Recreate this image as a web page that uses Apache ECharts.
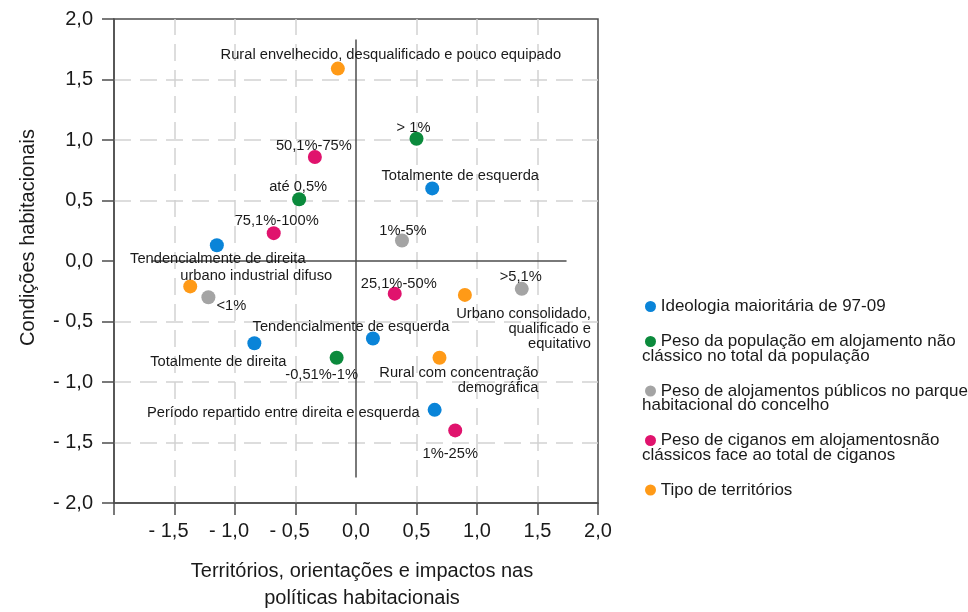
<!DOCTYPE html>
<html>
<head>
<meta charset="utf-8">
<title>Condições habitacionais</title>
<script src="https://cdn.jsdelivr.net/npm/echarts@6.0.0/dist/echarts.min.js"></script>
<style>
    html, body { margin: 0; padding: 0; background: #fff; }
    #chart { width: 968px; height: 612px; }
</style>
</head>
<body>
<div id="chart"></div>
<script>
// nomes das séries (legenda)
var seriesNames = [
    'Ideologia maioritária de 97-09',
    'Peso da população em alojamento não\nclássico no total da população',
    'Peso de alojamentos públicos no parque\nhabitacional do concelho',
    'Peso de ciganos em alojamentosnão\nclássicos face ao total de ciganos',
    'Tipo de territórios'
];
var seriesColors = ['#0a84d8', '#0b8a3c', '#a4a4a4', '#e0136d', '#ff9a17'];

// [x, y, etiqueta]
var ideologia = [
    [0.63, 0.60, 'Totalmente de esquerda'],
    [-1.15, 0.13, 'Tendencialmente de direita'],
    [0.14, -0.64, 'Tendencialmente de esquerda'],
    [-0.84, -0.68, 'Totalmente de direita'],
    [0.65, -1.23, 'Período repartido entre direita e esquerda']
];
var populacao = [
    [0.50, 1.01, '> 1%'],
    [-0.47, 0.51, 'até 0,5%'],
    [-0.16, -0.80, '-0,51%-1%']
];
var alojPublicos = [
    [0.38, 0.17, '1%-5%'],
    [-1.22, -0.30, '<1%'],
    [1.37, -0.23, '>5,1%']
];
var ciganos = [
    [-0.34, 0.86, '50,1%-75%'],
    [-0.68, 0.23, '75,1%-100%'],
    [0.32, -0.27, '25,1%-50%'],
    [0.82, -1.40, '1%-25%']
];
var territorios = [
    [-0.15, 1.59, 'Rural envelhecido, desqualificado e pouco equipado'],
    [-1.37, -0.21, 'urbano industrial difuso'],
    [0.90, -0.28, 'Urbano consolidado,\nqualificado e\nequitativo'],
    [0.69, -0.80, 'Rural com concentração\ndemográfica']
];
var seriesData = [ideologia, populacao, alojPublicos, ciganos, territorios];

// linhas do cruzamento dos eixos
var linhaH = [[-1.69, 0], [1.74, 0]];
var linhaV = [[0, 1.83], [0, -1.79]];
// grelha tracejada
var gradeX = [-1.5, -1, -0.5, 0.5, 1, 1.5];
var gradeY = [1.5, 1, 0.5, -0.5, -1, -1.5];

// posição das etiquetas (deslocamento em px a partir do ponto)
var etiquetaPos = {
    'Totalmente de esquerda': [28, -12],
    'Tendencialmente de direita': [1, 14],
    'Tendencialmente de esquerda': [-22, -11],
    'Totalmente de direita': [-36, 19],
    'Período repartido entre direita e esquerda': [-15, 3, 'right'],
    '> 1%': [-3, -11],
    'até 0,5%': [-1, -12],
    '-0,51%-1%': [-15, 17],
    '1%-5%': [1, -9],
    '<1%': [23, 9],
    '>5,1%': [-1, -12],
    '50,1%-75%': [-1, -11],
    '75,1%-100%': [3, -12],
    '25,1%-50%': [4, -10],
    '1%-25%': [-5, 24],
    'Rural envelhecido, desqualificado e pouco equipado': [53, -14],
    'urbano industrial difuso': [66, -10],
    'Urbano consolidado,\nqualificado e\nequitativo': [126, 34, 'right'],
    'Rural com concentração\ndemográfica': [99, 23, 'right']
};

var fonte = 'Liberation Sans, Arial, sans-serif';
var corTexto = '#1a1a1a';
var corEixo = '#4d4d4d';

function fmt(v) {
    var s = Math.abs(v).toFixed(1).replace('.', ',');
    return v < 0 ? '- ' + s : s;
}

function desenhaGrafico() {
    var chart = echarts.init(document.getElementById('chart'));

    var series = [];
    // grelha + linha horizontal do zero
    series.push({
        name: 'eixoH',
        type: 'line',
        data: linhaH,
        symbol: 'none',
        silent: true,
        z: 1,
        lineStyle: {color: corEixo, width: 1.5},
        markLine: {
            silent: true,
            z: 0,
            symbol: 'none',
            label: {show: false},
            lineStyle: {color: '#d2d2d2', width: 1.5, type: [17, 9]},
            data: gradeX.map(function (v) { return {xAxis: v}; })
                .concat(gradeY.map(function (v) { return {yAxis: v}; }))
        }
    });
    series.push({
        name: 'eixoV',
        type: 'line',
        data: linhaV,
        symbol: 'none',
        silent: true,
        z: 1,
        lineStyle: {color: corEixo, width: 1.5}
    });

    seriesData.forEach(function (arr, i) {
        series.push({
            name: seriesNames[i],
            type: 'scatter',
            symbolSize: 14,
            z: 3,
            itemStyle: {color: seriesColors[i], opacity: 1},
            data: arr.map(function (d) {
                var p = etiquetaPos[d[2]];
                return {
                    value: [d[0], d[1]],
                    name: d[2],
                    label: {
                        show: true,
                        position: 'inside',
                        offset: [p[0], p[1]],
                        align: p[2] || 'center',
                        verticalAlign: 'middle'
                    }
                };
            }),
            label: {
                formatter: '{b}',
                fontFamily: fonte,
                fontSize: 14.7,
                lineHeight: 15,
                color: corTexto
            }
        });
    });

    var richLegenda = {};
    seriesColors.forEach(function (c, i) {
        richLegenda['d' + i] = {width: 11, height: 11, borderRadius: 5.5, backgroundColor: c};
    });
    richLegenda.s = {width: 3, height: 11};

    var option = {
        animation: false,
        textStyle: {fontFamily: fonte},
        grid: {
            left: 114, top: 19, width: 484, height: 484,
            containLabel: false,
            outerBoundsMode: 'none',
            show: true, borderColor: corEixo, borderWidth: 1.5
        },
        legend: {
            orient: 'vertical',
            left: 632,
            top: 293,
            itemWidth: 0,
            itemHeight: 0,
            itemGap: 18,
            icon: 'circle',
            data: seriesNames,
            formatter: function (name) {
                var i = seriesNames.indexOf(name);
                return '{s|}{d' + i + '|} ' + name;
            },
            textStyle: {
                fontFamily: fonte,
                fontSize: 17,
                lineHeight: 14.5,
                color: corTexto,
                rich: richLegenda
            }
        },
        xAxis: {
            type: 'value',
            min: -2, max: 2, interval: 0.5,
            name: 'Territórios, orientações e impactos nas\npolíticas habitacionais',
            nameLocation: 'middle',
            nameGap: 55,
            nameTextStyle: {fontSize: 20, lineHeight: 27, color: corTexto, padding: [0, 0, 0, 12]},
            axisLine: {show: true, onZero: false, lineStyle: {color: corEixo, width: 1.5}},
            axisTick: {show: true, length: 12, lineStyle: {color: corEixo, width: 1.5}},
            splitLine: {show: false},
            axisLabel: {
                margin: 18,
                fontSize: 20,
                color: corTexto,
                formatter: function (v) {
                    if (v <= -2) return '';
                    return v < 0 ? '{n|' + fmt(v) + '}' : fmt(v);
                },
                rich: {n: {fontSize: 20, color: corTexto, padding: [0, 12, 0, 0]}}
            }
        },
        yAxis: {
            type: 'value',
            min: -2, max: 2, interval: 0.5,
            name: 'Condições habitacionais',
            nameLocation: 'middle',
            nameGap: 76,
            nameTextStyle: {fontSize: 20, color: corTexto, padding: [0, 0, 0, 47]},
            axisLine: {show: true, onZero: false, lineStyle: {color: corEixo, width: 1.5}},
            axisTick: {show: true, length: 12, lineStyle: {color: corEixo, width: 1.5}},
            splitLine: {show: false},
            axisLabel: {
                margin: 21,
                fontSize: 20,
                color: corTexto,
                formatter: fmt
            }
        },
        series: series
    };
    chart.setOption(option);
}

desenhaGrafico();
</script>
</body>
</html>
